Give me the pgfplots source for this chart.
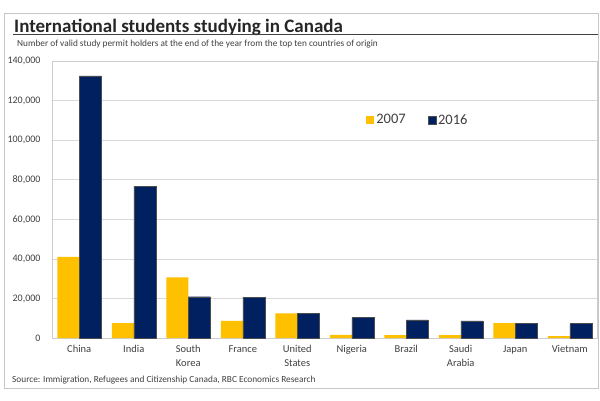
\documentclass[border=0pt]{standalone}
\usepackage{fontspec}
\setmainfont{Carlito}
\usepackage{pgfplots}
\pgfplotsset{compat=1.18}
\definecolor{gold}{RGB}{255,192,0}
\definecolor{navy}{RGB}{0,32,96}
\definecolor{txt}{RGB}{64,64,64}

\begin{document}
\begin{tikzpicture}
\path[use as bounding box, fill=white] (0pt,0pt) rectangle (600pt,400pt);
\draw[gray!45, line width=0.8pt] (4pt,12pt) rectangle (598pt,387pt);
% title and rule
\node[anchor=base west, inner sep=0, font=\fontsize{19}{22}\selectfont\bfseries, text=black!85] at (14pt,367.5pt) {International students studying in Canada};
\draw[black!75, line width=0.8pt] (13pt,365.5pt) -- (598pt,365.5pt);
\node[anchor=base west, inner sep=0, font=\fontsize{9.3}{10}\selectfont, text=txt] at (17pt,353pt) {Number of valid study permit holders at the end of the year from the top ten countries of origin};
\node[anchor=base west, inner sep=0, font=\fontsize{9.3}{10}\selectfont, text=txt] at (12pt,18pt) {Source: Immigration, Refugees and Citizenship Canada, RBC Economics Research};

\begin{axis}[
    at={(52pt,62pt)}, anchor=south west,
    scale only axis,
    width=545pt, height=277pt,
    ybar=0pt,
    bar width=22pt,
    ymin=0, ymax=140000,
    ytick={0,20000,40000,60000,80000,100000,120000,140000},
    yticklabels={0,{20,000},{40,000},{60,000},{80,000},{100,000},{120,000},{140,000}},
    scaled y ticks=false,
    xmin=-0.5, xmax=9.5,
    xtick={0,1,2,3,4,5,6,7,8,9},
    xticklabels={China, India, {South\\Korea}, France, {United\\States}, Nigeria, Brazil, {Saudi\\Arabia}, Japan, Vietnam},
    x tick label style={align=center, font=\fontsize{10.5}{14}\selectfont, text=txt, yshift=-4pt},
    y tick label style={font=\fontsize{10}{11}\selectfont, text=txt, xshift=-8pt},
    ymajorgrids,
    grid style={gray!30, line width=0.6pt},
    axis line style={gray!40, line width=0.6pt},
    major tick length=0pt,
    legend style={at={(0.571,0.787)}, anchor=west, draw=none, fill=none,
        legend columns=2, font=\fontsize{14.5}{16}\selectfont, text=txt,
        /tikz/every even column/.append style={column sep=20pt}},
    legend image code/.code={\fill[#1] (0pt,-4pt) rectangle (8pt,4pt);},
]
\addplot[fill=gold, draw=none] coordinates {
    (0,41000) (1,7500) (2,30600) (3,8600) (4,12400)
    (5,1600) (6,1500) (7,1500) (8,7500) (9,1000)
};
\addlegendentry{2007}
\addplot[fill=navy, draw=black!70, line width=0.3pt] coordinates {
    (0,132500) (1,76600) (2,20900) (3,20600) (4,12500)
    (5,10300) (6,9100) (7,8700) (8,7500) (9,7300)
};
\addlegendentry{2016}
\end{axis}
\end{tikzpicture}
\end{document}
